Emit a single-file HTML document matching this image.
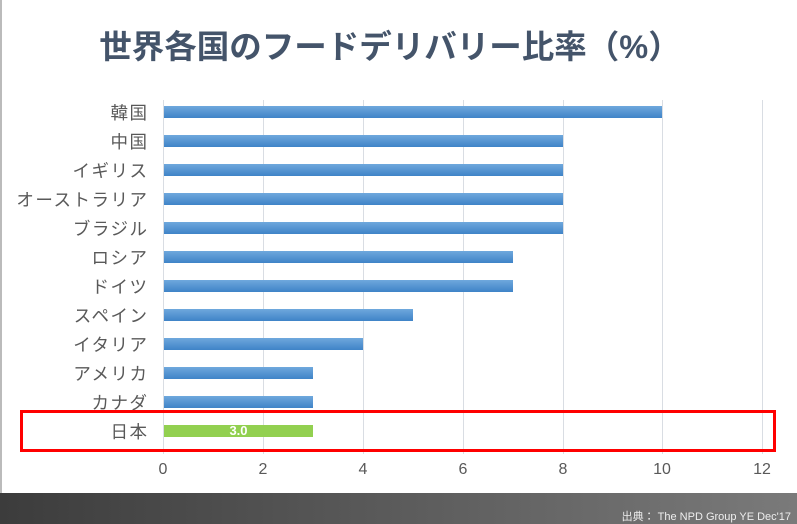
<!DOCTYPE html>
<html><head><meta charset="utf-8"><style>
body{margin:0;width:797px;height:524px;overflow:hidden;background:#fff;font-family:"Liberation Sans","Noto Sans CJK JP",sans-serif;position:relative}
.t{position:absolute;left:0;width:780px;top:21px;text-align:center;font-size:32.5px;font-weight:bold;color:#44546a}
.g{position:absolute;top:100px;height:354px;width:1px;background:#d9dde3}
.l{position:absolute;right:650px;font-size:17.5px;letter-spacing:1.5px;margin-right:-1.5px;color:#595959;white-space:nowrap;line-height:18px}
.b{position:absolute;left:164px;height:12px;background:linear-gradient(#6fa8dd,#3f83c7)}
.x{position:absolute;top:461px;font-size:16px;color:#595959;width:40px;text-align:center}
</style></head><body>
<div style="position:absolute;left:0;top:0;width:2px;height:493px;background:#bbb"></div>
<div class="t">世界各国のフードデリバリー比率（%）</div>
<div class="g" style="left:163px"></div><div class="g" style="left:263px"></div><div class="g" style="left:363px"></div><div class="g" style="left:463px"></div><div class="g" style="left:563px"></div><div class="g" style="left:662px"></div><div class="g" style="left:762px"></div>
<div class="l" style="top:104px">韓国</div><div class="b" style="top:106px;width:498px"></div>
<div class="l" style="top:133px">中国</div><div class="b" style="top:135px;width:399px"></div>
<div class="l" style="top:162px">イギリス</div><div class="b" style="top:164px;width:399px"></div>
<div class="l" style="top:191px">オーストラリア</div><div class="b" style="top:193px;width:399px"></div>
<div class="l" style="top:220px">ブラジル</div><div class="b" style="top:222px;width:399px"></div>
<div class="l" style="top:249px">ロシア</div><div class="b" style="top:251px;width:349px"></div>
<div class="l" style="top:278px">ドイツ</div><div class="b" style="top:280px;width:349px"></div>
<div class="l" style="top:307px">スペイン</div><div class="b" style="top:309px;width:249px"></div>
<div class="l" style="top:336px">イタリア</div><div class="b" style="top:338px;width:199px"></div>
<div class="l" style="top:365px">アメリカ</div><div class="b" style="top:367px;width:149px"></div>
<div class="l" style="top:394px">カナダ</div><div class="b" style="top:396px;width:149px"></div>
<div class="l" style="top:423px">日本</div><div style="position:absolute;left:164px;top:425px;width:149px;height:12px;background:#92d050;color:#fff;font-size:13px;font-weight:bold;line-height:12px;text-align:center">3.0</div>
<div style="position:absolute;left:20px;top:410px;width:750px;height:36px;border:3px solid #f00"></div>
<div class="x" style="left:143px">0</div><div class="x" style="left:243px">2</div><div class="x" style="left:343px">4</div><div class="x" style="left:443px">6</div><div class="x" style="left:543px">8</div><div class="x" style="left:642px">10</div><div class="x" style="left:742px">12</div>
<div style="position:absolute;left:0;top:493px;width:797px;height:31px;background:linear-gradient(90deg,#3c3c3c,#555 40%,#7a7a7a)"></div>
<div style="position:absolute;right:6px;top:508px;font-size:11px;color:#eee">出典： The NPD Group YE Dec'17</div>
</body></html>
